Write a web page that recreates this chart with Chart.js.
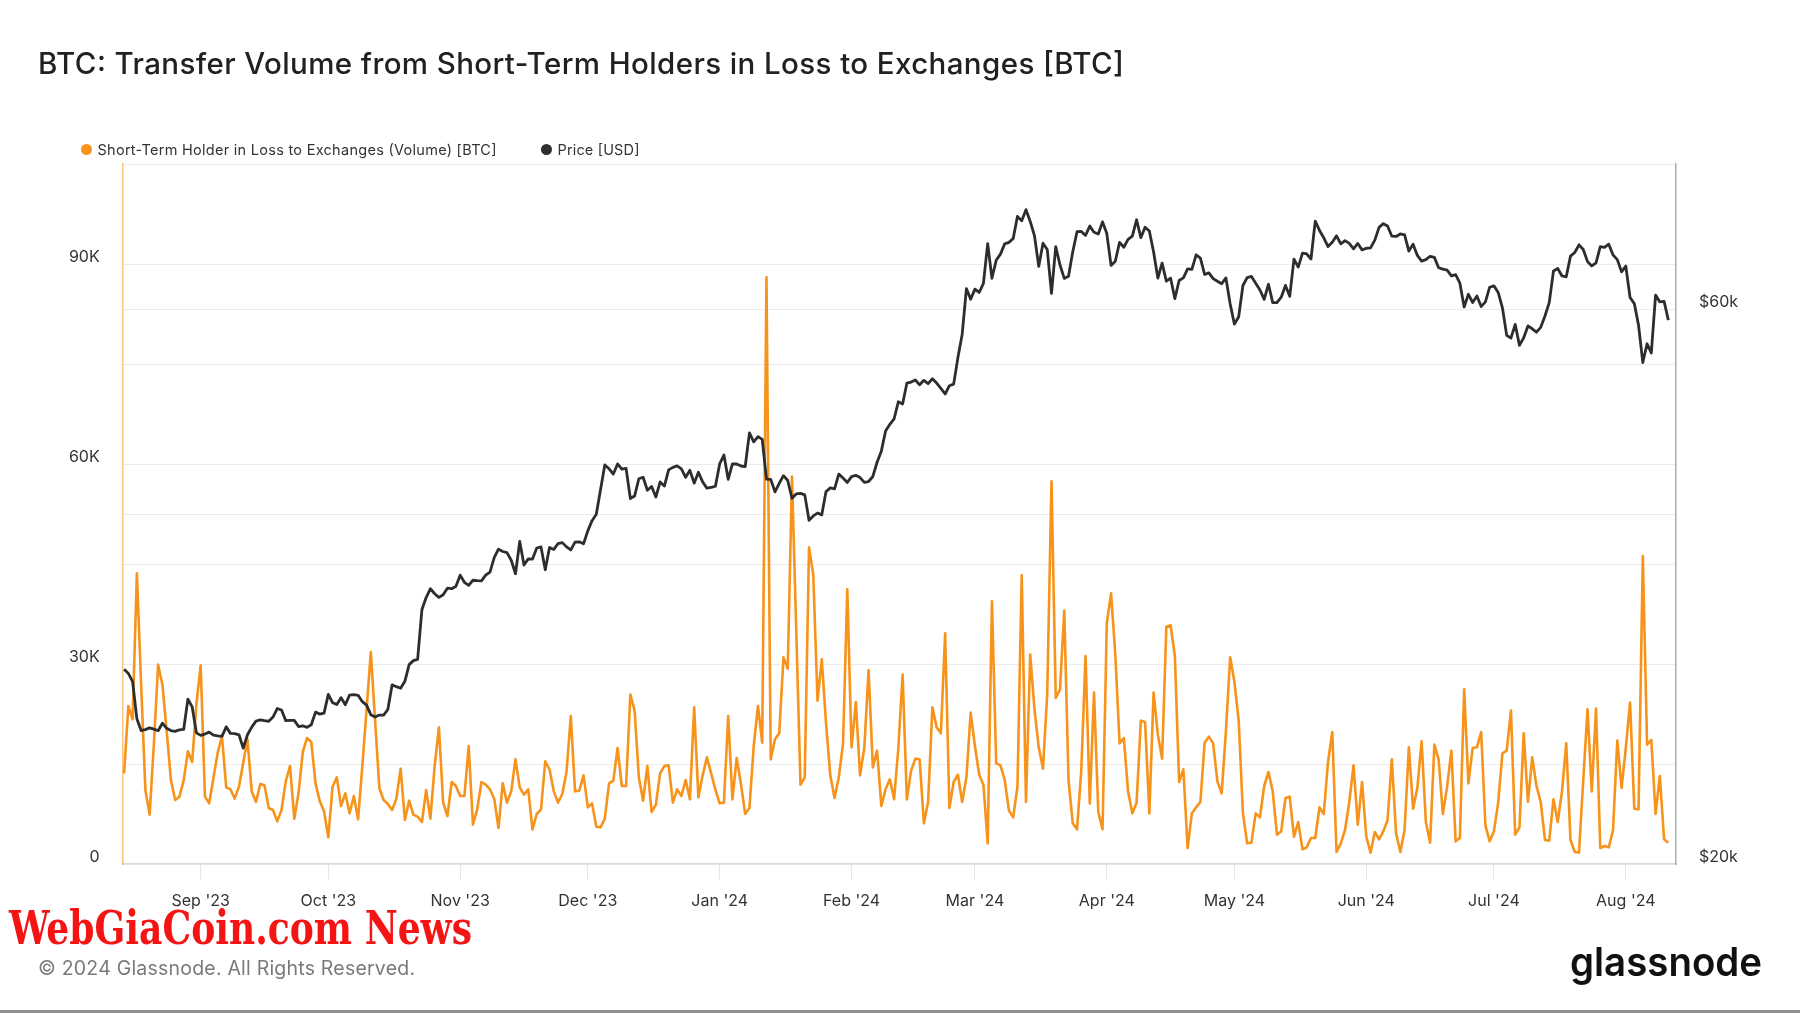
<!DOCTYPE html>
<html>
<head>
<meta charset="utf-8">
<script src="https://cdn.jsdelivr.net/npm/chart.js@4.4.1/dist/chart.umd.min.js"></script>
<style>
  html, body { margin: 0; padding: 0; background: #ffffff; }
  #wrap { position: relative; width: 1800px; height: 1013px; overflow: hidden; background: #ffffff; }
  #chart { position: absolute; left: 0; top: 0; }
  #overlay { position: absolute; left: 0; top: 0; pointer-events: none; }
</style>
</head>
<body>
<div id="wrap">
  <canvas id="chart" width="1800" height="1013"></canvas>
  <svg id="overlay" width="1800" height="1013" xmlns="http://www.w3.org/2000/svg">
    <text x="38" y="74" font-family="Inter, 'Noto Sans', sans-serif" font-size="29.5" font-weight="500" fill="#212121" textLength="1086">BTC: Transfer Volume from Short-Term Holders in Loss to Exchanges [BTC]</text>
    <circle cx="86.5" cy="149.5" r="5.5" fill="#f7931a"/>
    <text x="97.5" y="154.5" font-family="Inter, 'Noto Sans', sans-serif" font-size="14.5" fill="#333333" textLength="399">Short-Term Holder in Loss to Exchanges (Volume) [BTC]</text>
    <circle cx="546.5" cy="149.5" r="5.5" fill="#2e2e2e"/>
    <text x="557.5" y="154.5" font-family="Inter, 'Noto Sans', sans-serif" font-size="14.5" fill="#333333" textLength="82">Price [USD]</text>
    <text x="9" y="944" font-family="'DejaVu Serif Condensed', 'DejaVu Serif', serif" font-size="47" font-weight="bold" fill="#f41414" textLength="463" lengthAdjust="spacingAndGlyphs">WebGiaCoin.com News</text>
    <text x="38" y="975" font-family="Inter, 'Noto Sans', sans-serif" font-size="19.5" fill="#7a7a7a" textLength="377">© 2024 Glassnode. All Rights Reserved.</text>
    <text x="1570" y="976" font-family="Inter, 'Noto Sans', sans-serif" font-size="40" font-weight="600" fill="#111111" textLength="192" lengthAdjust="spacingAndGlyphs">glassnode</text>
    <rect x="0" y="1010" width="1800" height="3" fill="#8f8f8f"/>
  </svg>
</div>
<script>
// ---------------- DATA ----------------
const startDate = '2023-08-14';   // first daily point
const axisOrigin = '2023-09-01';  // reference day for the time axis

// Short-Term Holder in Loss to Exchanges (Volume) [BTC], daily
const volumeBTC = [
  13600, 23700, 21700, 43600, 27000, 11100, 7400, 18000, 29900, 26900,
  20000, 12600, 9600, 10100, 12500, 16900, 15300, 24000, 29800, 10100,
  9100, 12900, 16700, 19200, 11500, 11200, 9800, 11600, 15200, 18700,
  10900, 9300, 12000, 11800, 8400, 8100, 6400, 8100, 12400, 14700,
  6800, 10600, 16800, 18900, 18300, 12100, 9400, 7900, 4000, 11600,
  13000, 8700, 10600, 7600, 10200, 6700, 14700, 23200, 31800, 21500,
  11400, 9600, 9000, 8100, 9800, 14300, 6600, 9500, 7400, 7100,
  6300, 11100, 6800, 14700, 20500, 9200, 7200, 12300, 11700, 10200,
  10200, 17700, 5900, 8200, 12300, 11900, 11200, 9800, 5400, 12100,
  9200, 10900, 15700, 11500, 10400, 11200, 5200, 7500, 8200, 15400,
  14200, 10900, 9200, 10500, 13800, 22200, 10900, 11000, 13300, 8500,
  9100, 5600, 5500, 6800, 12100, 12500, 17400, 11700, 11700, 25400,
  23000, 13000, 9500, 14700, 7800, 8900, 13600, 14700, 14800, 9200,
  11200, 10200, 12600, 9700, 23500, 10000, 13300, 16000, 13600, 11100,
  9100, 9200, 22200, 9700, 15900, 12000, 7500, 8400, 17700, 23700,
  18200, 88000, 15700, 18700, 19600, 31000, 29300, 58100, 35000, 11900,
  13000, 47500, 43400, 24500, 30700, 21100, 13300, 9900, 13000, 18100,
  41200, 17500, 24300, 13300, 17400, 29100, 14500, 17000, 8700, 11200,
  12700, 9700, 17400, 28400, 9700, 14000, 15800, 15700, 6100, 9300,
  23500, 20500, 19600, 34600, 8400, 12300, 13400, 9300, 13000, 22700,
  17700, 13400, 11900, 3100, 39400, 15100, 14800, 12600, 8000, 7000,
  11600, 43300, 9300, 31400, 23200, 17500, 14300, 25600, 57400, 24900,
  26200, 38000, 12600, 6100, 5200, 14000, 31200, 9100, 25700, 7800,
  5200, 36100, 40600, 31400, 18100, 18900, 10900, 7600, 9200, 21500,
  21300, 7600, 25700, 19400, 15800, 35600, 35800, 31200, 12300, 14200,
  2400, 7600, 8500, 9300, 18200, 19100, 18100, 12400, 10600, 19900,
  31000, 27300, 21500, 7600, 3100, 3200, 7600, 7000, 11700, 13800,
  10900, 4400, 4900, 9900, 10100, 4100, 6300, 2200, 2500, 3900,
  3900, 8500, 7500, 15300, 19800, 1800, 3100, 5100, 9300, 14800,
  5900, 12300, 4100, 1700, 4800, 3700, 4900, 6600, 15700, 4600,
  1800, 5100, 17500, 8300, 11400, 18400, 6300, 3200, 17900, 15700,
  7500, 11600, 17000, 3400, 3900, 26200, 12100, 17400, 17500, 19800,
  5800, 3400, 4900, 9200, 16600, 17000, 23000, 4400, 5500, 19600,
  9300, 16000, 11700, 9300, 3600, 3500, 9700, 6300, 10900, 18100,
  3600, 1800, 1700, 12600, 23200, 10900, 23300, 2400, 2700, 2500,
  5100, 18500, 11400, 17400, 24200, 8300, 8200, 46200, 17900, 18600,
  7500, 13200, 3700, 3200
];

// Price [USD], daily
const priceUSD = [
  29408, 29170, 28701, 26664, 26049, 26096, 26189, 26124, 26040, 26431,
  26163, 26049, 26008, 26089, 26106, 27727, 27297, 25931,
  25800, 25869, 25969, 25812, 25780, 25753, 26240, 25905, 25895, 25832,
  25162, 25833, 26228, 26539, 26608, 26568, 26534, 26754, 27211, 27132,
  26567, 26579, 26579, 26256, 26298, 26217, 26352, 27021, 26911, 26967,
  27983, 27530, 27429, 27799, 27415, 27947, 27968, 27935, 27584, 27392,
  26873, 26756, 26862, 26861, 27159, 28519, 28415, 28328, 28719, 29683,
  29919, 29993, 33086, 33901, 34502, 34156, 33910, 34089, 34538, 34502, 34667,
  35437, 34938, 34732, 35082, 35049, 35038, 35443, 35655, 36693, 37313,
  37138, 37054, 36502, 35537, 37880, 36155, 36596, 36585, 37387, 37476,
  35813, 37432, 37289, 37720, 37796, 37479, 37254, 37831, 37858, 37712,
  38688, 39476, 39978, 41980, 44080, 43746, 43292, 44166, 43725, 43779,
  41243, 41450, 42890, 43023, 41929, 42240, 41365, 42623, 42270, 43652,
  43869, 43997, 43740, 43017, 43613, 42520, 43442, 42627, 42100, 42156, 42265,
  44167, 44958, 42848, 44179, 44162, 43989, 43943, 46970, 46139, 46627,
  46368, 42853, 42842, 41796, 42511, 43154, 42742, 41262, 41618, 41665,
  41545, 39507, 39845, 40077, 39933, 41816, 42120, 42035, 43288, 42952, 42582,
  43075, 43185, 42992, 42583, 42658, 43084, 44318, 45301, 47147, 47771,
  48293, 49958, 49742, 51826, 51938, 52160, 51663, 52122, 51779, 52284,
  51839, 51304, 50731, 51571, 51733, 54522, 57085, 62504, 61198,
  62440, 62029, 63167, 68330, 63801, 66106, 66925, 68300, 68498, 69019,
  72123, 71481, 73083, 71397, 69403, 65315, 68391, 67548, 61912, 67913,
  65491, 63779, 64062, 67234, 69959, 69987, 69455, 70745, 69892, 69645, 71334,
  69702, 65446, 65980, 68508, 67837, 68897, 69362, 71632, 69139, 70587,
  70060, 67195, 63821, 65738, 63426, 63811, 61276, 63513, 63843, 64994,
  64927, 66837, 66407, 64276, 64481, 63755, 63419, 63113, 63841, 60637,
  58254, 59123, 62889, 63891, 64031, 63161, 62334, 61187, 63049, 60793,
  60794, 61448, 62901, 61553, 66267, 65231, 67051, 66940, 66278, 71448,
  70137, 69122, 67929, 68527, 69394, 68296, 68742, 68365, 67635, 68354, 67491,
  67706, 67751, 68804, 70567, 71082, 70757, 69342, 69305, 69648, 69512,
  67332, 68241, 66757, 66012, 66191, 66639, 66491, 65140, 64960, 64828,
  64096, 64253, 63180, 60277, 61804, 60811, 61604, 60320, 60887, 62678,
  62851, 62029, 60173, 56977, 56663, 58231, 55857, 56714, 58052, 57725,
  57339, 57889, 59204, 60797, 64724, 65044, 64087, 63987, 66661, 67139,
  68165, 67532, 65936, 65372, 65777, 67912, 67813, 68255, 66819, 66201, 64620,
  65357, 61415, 60680, 58116, 53991, 56034, 55027, 61710, 60881, 60945, 58719
];

// x-axis ticks (month starts)
const monthTickDates = ['2023-09-01','2023-10-01','2023-11-01','2023-12-01','2024-01-01','2024-02-01',
                        '2024-03-01','2024-04-01','2024-05-01','2024-06-01','2024-07-01','2024-08-01'];
const monthTickLabels = ["Sep '23","Oct '23","Nov '23","Dec '23","Jan '24","Feb '24",
                         "Mar '24","Apr '24","May '24","Jun '24","Jul '24","Aug '24"];

// left axis (volume) grid + labels
const leftGridValues = [0, 15000, 30000, 45000, 60000, 75000, 90000, 105000];
const leftTickValues = [0, 30000, 60000, 90000];
const leftTickLabels = ['0', '30K', '60K', '90K'];

// right axis (price, log) grid + labels
const rightGridValues = [20000, 40000, 60000, 80000];
const rightTickValues = [20000, 60000];
const rightTickLabels = ['$20k', '$60k'];

// ---------------- BUILD ----------------
function dayOf(s) {
  const [y, m, d] = s.split('-').map(Number);
  const [oy, om, od] = axisOrigin.split('-').map(Number);
  return (Date.UTC(y, m - 1, d) - Date.UTC(oy, om - 1, od)) / 86400000;
}
const startDay = dayOf(startDate);
const volPts = volumeBTC.map((v, i) => ({ x: startDay + i, y: v }));
const pricePts = priceUSD.map((v, i) => ({ x: startDay + i, y: v }));

const tickFont = { family: "Inter, 'Noto Sans', sans-serif", size: 16 };
const gridColor = '#ececec';

new Chart(document.getElementById('chart'), {
  type: 'line',
  data: {
    datasets: [
      { label: 'Price [USD]', data: pricePts, yAxisID: 'y1', borderColor: '#2d2d2d', borderWidth: 2.8,
        pointRadius: 0, tension: 0, order: 0, borderJoinStyle: 'round' },
      { label: 'Short-Term Holder in Loss to Exchanges (Volume) [BTC]', data: volPts, yAxisID: 'y',
        borderColor: '#f7931a', borderWidth: 2.6, pointRadius: 0, tension: 0, order: 1, borderJoinStyle: 'round' }
    ]
  },
  options: {
    responsive: false,
    animation: false,
    devicePixelRatio: 1,
    layout: { padding: { top: 164, left: 0, right: 0, bottom: 0 } },
    plugins: { legend: { display: false }, tooltip: { enabled: false }, title: { display: false } },
    scales: {
      x: {
        type: 'linear',
        min: -18.33,
        max: 346.8,
        afterFit: s => { s.height = 149; },
        afterBuildTicks: s => { s.ticks = monthTickDates.map(d => ({ value: dayOf(d) })); },
        ticks: {
          autoSkip: false, maxRotation: 0, minRotation: 0, padding: 11.5,
          color: '#333333', font: tickFont,
          callback: (v, i) => monthTickLabels[i]
        },
        grid: { drawOnChartArea: false, drawTicks: true, tickLength: 16, color: '#e6e6e6', lineWidth: 1 },
        border: { display: true, color: '#d9d9d9', width: 1.5 }
      },
      y: {
        position: 'left',
        min: 0,
        max: 105000,
        afterFit: s => { s.width = 122.7; },
        afterBuildTicks: s => { s.ticks = leftGridValues.map(v => ({ value: v })); },
        ticks: {
          padding: 23, labelOffset: -7, color: '#333333', font: tickFont,
          callback: v => { const k = leftTickValues.indexOf(v); return k >= 0 ? leftTickLabels[k] : ''; }
        },
        grid: { drawTicks: false, color: c => (c.tick && c.tick.value === 105000) ? '#e2e2e2' : gridColor, lineWidth: 1 },
        border: { display: true, color: 'rgba(247,147,26,0.55)', width: 1.5 }
      },
      y1: {
        type: 'logarithmic',
        position: 'right',
        min: 20000,
        max: 80000,
        afterFit: s => { s.width = 124; },
        afterBuildTicks: s => { s.ticks = rightGridValues.map(v => ({ value: v })); },
        ticks: {
          padding: 23, labelOffset: -7, color: '#333333', font: tickFont,
          callback: v => { const k = rightTickValues.indexOf(v); return k >= 0 ? rightTickLabels[k] : ''; }
        },
        grid: { drawTicks: false, color: gridColor, lineWidth: 1 },
        border: { display: true, color: '#ababab', width: 1.5 }
      }
    }
  }
});
</script>
</body>
</html>
